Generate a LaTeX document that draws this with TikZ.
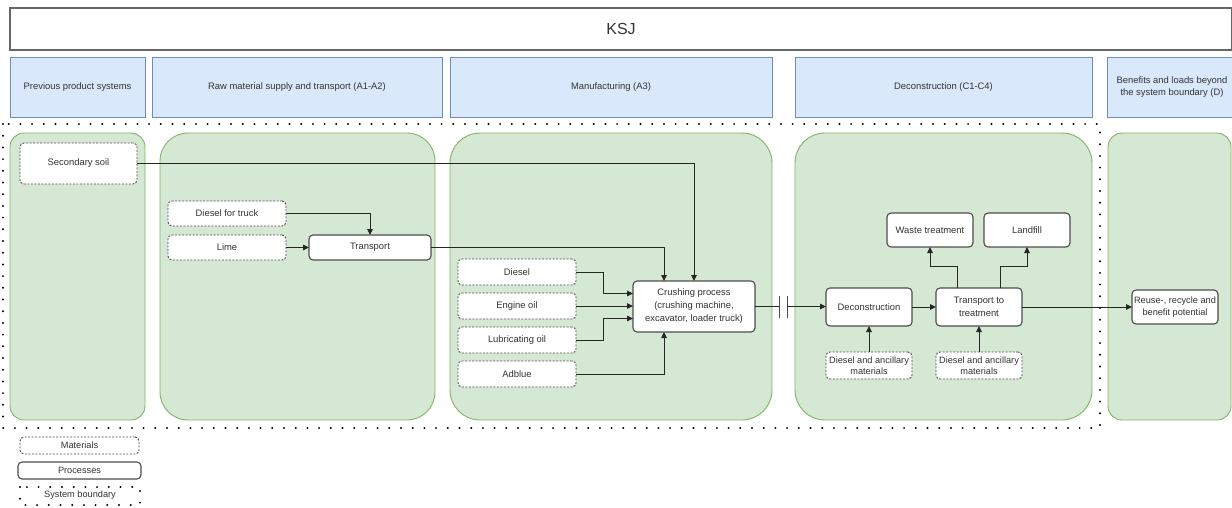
\documentclass[tikz,border=0pt]{standalone}
\usepackage{fontspec}
\setmainfont{Liberation Sans}
\usetikzlibrary{arrows.meta,positioning,calc}
\definecolor{gfill}{HTML}{D5E8D4}
\definecolor{gline}{HTML}{82B366}
\definecolor{bfill}{HTML}{DAE8FC}
\definecolor{bline}{HTML}{6C8EBF}
\definecolor{txt}{HTML}{333333}
\definecolor{edge}{HTML}{4D4D4D}
\tikzset{
  base/.style={inner sep=1pt, outer sep=0pt, text=txt, align=center, anchor=north west},
  header/.style={base, draw=bline, fill=bfill, line width=0.8pt, font=\fontsize{9.4}{11.7}\selectfont},
  container/.style={draw=gline, fill=gfill, line width=0.9pt},
  mat/.style={base, draw=edge, fill=white, dash pattern=on 2pt off 1.5pt, line width=0.9pt, rounded corners=4pt, font=\fontsize{9.4}{11}\selectfont},
  proc/.style={base, draw=edge, fill=white, line width=1.1pt, rounded corners=4pt, font=\fontsize{9.4}{13}\selectfont},
  flow/.style={draw=black!85, line width=0.9pt, -{Triangle[length=6pt,width=5.5pt]}},
  boundary/.style={draw=black, line width=2.2pt, line cap=round, dash pattern=on 0pt off 11.7pt},
}
\begin{document}
\begin{tikzpicture}[x=1pt,y=-1pt]
\useasboundingbox (0,0) rectangle (1232,507);
% title
\node[base, draw=gray!80!black, line width=1.1pt, minimum width=1222pt, minimum height=42pt, font=\fontsize{16}{18}\selectfont] (ksj) at (10,8) {KSJ};
% headers
\node[header, minimum width=135pt, minimum height=60pt] (h1) at (10,57) {Previous product systems};
\node[header, minimum width=290pt, minimum height=60pt] (h2) at (152,57) {Raw material supply and transport (A1-A2)};
\node[header, minimum width=322pt, minimum height=60pt] (h3) at (450,57) {Manufacturing (A3)};
\node[header, minimum width=297pt, minimum height=60pt] (h4) at (795,57) {Deconstruction (C1-C4)};
\node[header, minimum width=130pt, minimum height=60pt] (h5) at (1107,57) {Benefits and loads beyond\\the system boundary (D)};
% containers
\draw[container, rounded corners=14pt] (10,133) rectangle (145,420);
\draw[container, rounded corners=28pt] (160,133) rectangle (435,420);
\draw[container, rounded corners=30pt] (450,133) rectangle (772,420);
\draw[container, rounded corners=30pt] (795,133) rectangle (1092,420);
\draw[container, rounded corners=14pt] (1108,133) rectangle (1231,420);
% system boundary
\draw[boundary] (3,124) rectangle (1100,428);
% nodes
\node[mat, minimum width=117pt, minimum height=41pt] (ss) at (20,143) {Secondary soil};
\node[mat, minimum width=118pt, minimum height=25pt] (dt) at (168,201) {Diesel for truck};
\node[mat, minimum width=118pt, minimum height=25pt] (lime) at (168,235) {Lime};
\node[proc, minimum width=122pt, minimum height=25pt] (tr) at (309,235) {Transport};
\node[mat, minimum width=118pt, minimum height=26pt] (dsl) at (458,259) {Diesel};
\node[mat, minimum width=118pt, minimum height=26pt] (eo) at (458,293) {Engine oil};
\node[mat, minimum width=118pt, minimum height=26pt] (lo) at (458,327) {Lubricating oil};
\node[mat, minimum width=118pt, minimum height=26pt] (ad) at (458,361) {Adblue};
\node[proc, minimum width=122pt, minimum height=51pt] (cr) at (633,281) {Crushing process\\(crushing machine,\\excavator, loader truck)};
\node[proc, minimum width=86pt, minimum height=38pt] (dec) at (826,288) {Deconstruction};
\node[proc, minimum width=86pt, minimum height=38pt] (tt) at (936,288) {Transport to\\treatment};
\node[proc, minimum width=86pt, minimum height=34pt] (wt) at (887,213) {Waste treatment};
\node[proc, minimum width=86pt, minimum height=34pt] (lf) at (984,213) {Landfill};
\node[mat, minimum width=86pt, minimum height=27pt, inner sep=0pt, font=\fontsize{9.2}{11}\selectfont] (da1) at (826,352) {Diesel and ancillary\\materials};
\node[mat, minimum width=86pt, minimum height=27pt, inner sep=0pt, font=\fontsize{9.2}{11}\selectfont] (da2) at (936,352) {Diesel and ancillary\\materials};
\node[proc, minimum width=86pt, minimum height=34pt, inner sep=0pt, font=\fontsize{9.2}{11.5}\selectfont] (ru) at (1132,290) {Reuse-, recycle and\\benefit potential};
% legend
\node[mat, minimum width=119pt, minimum height=17pt, font=\fontsize{9.2}{10}\selectfont] (lm) at (20,437) {Materials};
\node[proc, minimum width=123pt, minimum height=17pt, font=\fontsize{9.2}{10}\selectfont] (lp) at (18,462) {Processes};
\draw[boundary] (20,487) rectangle (140,505);
\node[base, anchor=center, font=\fontsize{9.2}{10}\selectfont] (lb) at (80,495.5) {System boundary};
% connectors
\draw[flow] (ss.east) -| (cr.north);
\draw[flow] (dt.east) -| (tr.north);
\draw[flow] (lime.east) -- (tr.west);
\draw[flow] (tr.east) -| ([xshift=-30pt]cr.north);
\draw[flow] (dsl.east) -- ++(27,0) |- ([yshift=13pt]cr.west);
\draw[flow] (eo.east) -- (eo.east -| cr.west);
\draw[flow] (lo.east) -- ++(27,0) |- ([yshift=-12pt]cr.west);
\draw[flow] (ad.east) -| ([xshift=-30pt]cr.south);
\coordinate (b1) at ($(cr.east)+(24,0)$);
\coordinate (b2) at ($(cr.east)+(32,0)$);
\draw[draw=black!85, line width=0.9pt] (cr.east) -- (b1);
\draw[draw=edge, line width=0.9pt] ([yshift=11pt]b1) -- ([yshift=-11pt]b1);
\draw[draw=edge, line width=0.9pt] ([yshift=11pt]b2) -- ([yshift=-11pt]b2);
\draw[flow] (b2) -- (b2 -| dec.west);
\draw[flow] (dec.east) -- (tt.west);
\draw[flow] (tt.east) -- (tt.east -| ru.west);
\draw[flow] ([xshift=-22pt]tt.north) -- ++(0,-22) -| (wt.south);
\draw[flow] ([xshift=21pt]tt.north) -- ++(0,-22) -| (lf.south);
\draw[flow] (da1.north) -- (dec.south);
\draw[flow] (da2.north) -- (tt.south);
\end{tikzpicture}
\end{document}
